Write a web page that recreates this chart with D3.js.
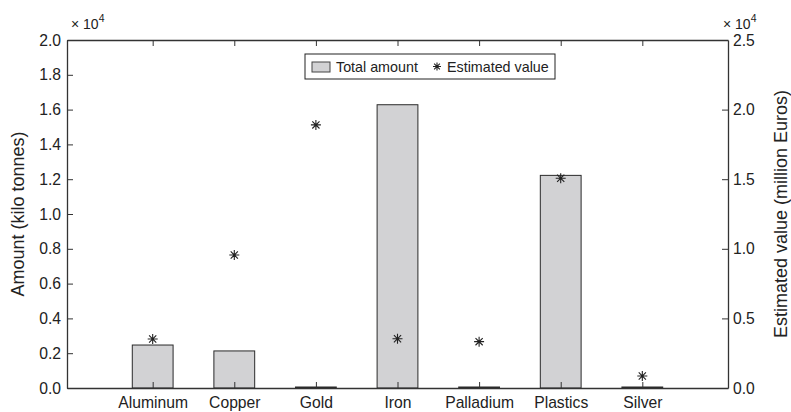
<!DOCTYPE html>
<html>
<head>
<meta charset="utf-8">
<script src="https://cdn.jsdelivr.net/npm/d3@7"></script>
<style>
  body { margin: 0; background: #fff; }
  svg text { font-family: "Liberation Sans", Arial, sans-serif; fill: #222; }
</style>
</head>
<body>
<svg id="chart"></svg>
<script>
// categories and series (amount in kilo tonnes, value in million Euros)
var categories = ["Aluminum", "Copper", "Gold", "Iron", "Palladium", "Plastics", "Silver"];
var totalAmount = [2470, 2130, 2, 16280, 1, 12220, 20];
var estimatedValue = [3520, 9550, 18900, 3540, 3330, 15070, 860];
var leftTicks = [0, 2000, 4000, 6000, 8000, 10000, 12000, 14000, 16000, 18000, 20000];
var rightTicks = [0, 5000, 10000, 15000, 20000, 25000];

var svgW = 791, svgH = 412;
var margin = {top: 40, right: 63, bottom: 24, left: 67};
var width = svgW - margin.left - margin.right;
var height = svgH - margin.top - margin.bottom;
var axisColour = "#333";

var svg = d3.select("#chart").attr("width", svgW).attr("height", svgH);
var chart = svg.append("g")
  .attr("transform", "translate(" + margin.left + "," + margin.top + ")");

var x = d3.scalePoint().domain(categories).range([0, width]).padding(1.05);
var yLeft = d3.scaleLinear().domain([0, 20000]).range([height, 0]);
var yRight = d3.scaleLinear().domain([0, 25000]).range([height, 0]);
var barW = x.step() * 0.5;

var data = categories.map(function(c, i) {
  return {name: c, amount: totalAmount[i], value: estimatedValue[i]};
});

// bars
chart.selectAll(".bar")
  .data(data)
  .enter().append("rect")
  .attr("class", "bar")
  .attr("x", function(d) { return x(d.name) - barW / 2; })
  .attr("width", barW)
  .attr("y", function(d) { return Math.min(yLeft(d.amount), height - 1); })
  .attr("height", function(d) { return Math.max(height - yLeft(d.amount), 1); })
  .style("fill", "#d2d2d4")
  .style("stroke", "#2a2a2a")
  .style("stroke-width", 1);

// asterisk marker like matlab '*'
var asterisk = {
  draw: function(ctx, size) {
    var r = Math.sqrt(size) / 2, d = r * 0.72;
    ctx.moveTo(-r, 0); ctx.lineTo(r, 0);
    ctx.moveTo(0, -r); ctx.lineTo(0, r);
    ctx.moveTo(-d, -d); ctx.lineTo(d, d);
    ctx.moveTo(-d, d); ctx.lineTo(d, -d);
  }
};
var star = d3.symbol().type(asterisk).size(100);

chart.selectAll(".est")
  .data(data)
  .enter().append("path")
  .attr("class", "est")
  .attr("transform", function(d) { return "translate(" + x(d.name) + "," + yRight(d.value) + ")"; })
  .attr("d", star)
  .style("fill", "none")
  .style("stroke", "#222")
  .style("stroke-width", 1.1);

// axes (ticks inward, box)
var fmt = function(d) { return (d / 10000).toFixed(1); };

var xBottom = d3.axisBottom(x).tickSizeInner(-6).tickSizeOuter(0).tickPadding(9);
var xTop = d3.axisTop(x).tickSizeInner(-6).tickSizeOuter(0).tickFormat("");
var yLeftAxis = d3.axisLeft(yLeft).tickValues(leftTicks).tickFormat(fmt).tickSizeInner(-6).tickSizeOuter(0).tickPadding(6);
var yRightAxis = d3.axisRight(yRight).tickValues(rightTicks).tickFormat(fmt).tickSizeInner(-6).tickSizeOuter(0).tickPadding(5);

var gb = chart.append("g").attr("transform", "translate(0," + height + ")").call(xBottom);
var gt = chart.append("g").call(xTop);
var gl = chart.append("g").call(yLeftAxis);
var gr = chart.append("g").attr("transform", "translate(" + width + ",0)").call(yRightAxis);

[gb, gt, gl, gr].forEach(function(g) {
  g.select(".domain").style("stroke", axisColour).style("stroke-width", 1.3);
  g.selectAll(".tick line").style("stroke", axisColour).style("stroke-width", 1);
  g.selectAll(".tick text").style("font-size", "15.7px").style("fill", "#222")
    .style("font-family", "'Liberation Sans', Arial, sans-serif");
});

// axis labels
chart.append("text")
  .attr("transform", "rotate(-90)")
  .attr("x", -height / 2)
  .attr("y", -margin.left + 18)
  .attr("dy", ".35em")
  .style("text-anchor", "middle")
  .style("font-size", "18px")
  .text("Amount (kilo tonnes)");

chart.append("text")
  .attr("transform", "rotate(-90)")
  .attr("x", -height / 2)
  .attr("y", width + 53)
  .attr("dy", ".35em")
  .style("text-anchor", "middle")
  .style("font-size", "18px")
  .text("Estimated value (million Euros)");

// exponent labels
function exponent(xPos) {
  var t = chart.append("text")
    .attr("x", xPos)
    .attr("y", -11)
    .style("font-size", "14px");
  t.append("tspan").text("\u00d7 10");
  t.append("tspan").attr("dy", -7).style("font-size", "10.5px").text("4");
}
exponent(4);
exponent(width - 5);

// legend
var legend = chart.append("g").attr("transform", "translate(238,14)");
legend.append("rect")
  .attr("width", 250).attr("height", 25)
  .style("fill", "#fff").style("stroke", "#222").style("stroke-width", 1);
legend.append("rect")
  .attr("x", 7).attr("y", 8).attr("width", 18).attr("height", 10)
  .style("fill", "#d2d2d4").style("stroke", "#444");
legend.append("text")
  .attr("x", 31).attr("y", 12.5).attr("dy", ".35em")
  .style("font-size", "14.3px").text("Total amount");
legend.append("path")
  .attr("transform", "translate(132,12.5)")
  .attr("d", star.size(64)())
  .style("fill", "none").style("stroke", "#222").style("stroke-width", 1.1);
legend.append("text")
  .attr("x", 142).attr("y", 12.5).attr("dy", ".35em")
  .style("font-size", "14.3px").text("Estimated value");
</script>
</body>
</html>
